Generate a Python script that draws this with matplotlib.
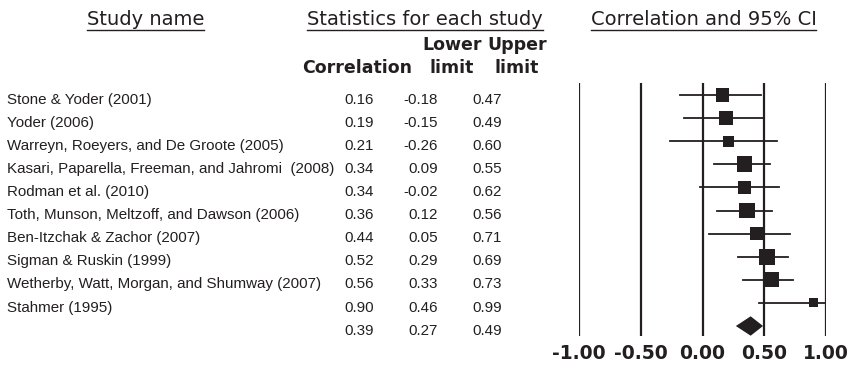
import matplotlib
matplotlib.use("Agg")
import matplotlib.pyplot as plt
from matplotlib.transforms import blended_transform_factory
from matplotlib.lines import Line2D
import numpy as np

studies = [
    "Stone & Yoder (2001)",
    "Yoder (2006)",
    "Warreyn, Roeyers, and De Groote (2005)",
    "Kasari, Paparella, Freeman, and Jahromi  (2008)",
    "Rodman et al. (2010)",
    "Toth, Munson, Meltzoff, and Dawson (2006)",
    "Ben-Itzchak & Zachor (2007)",
    "Sigman & Ruskin (1999)",
    "Wetherby, Watt, Morgan, and Shumway (2007)",
    "Stahmer (1995)",
]
corr = [0.16, 0.19, 0.21, 0.34, 0.34, 0.36, 0.44, 0.52, 0.56, 0.90]
lower = [-0.18, -0.15, -0.26, 0.09, -0.02, 0.12, 0.05, 0.29, 0.33, 0.46]
upper = [0.47, 0.49, 0.60, 0.55, 0.62, 0.56, 0.71, 0.69, 0.73, 0.99]
rel_weight = [9.5, 9.5, 6.1, 13.7, 9.5, 13.7, 9.5, 13.7, 12.2, 4.2]
summary = (0.39, 0.27, 0.49)
xticks = [-1.0, -0.5, 0.0, 0.5, 1.0]
xticklabels = ["-1.00", "-0.50", "0.00", "0.50", "1.00"]

W, H = 851, 372
fig = plt.figure(figsize=(W / 100, H / 100), dpi=100)
ink = "#231f20"

# forest axes: x=-1 at px 579, x=1 at px 826; vertical span px 83..336
row0_px, row_step = 95.0, 23.1
ax_top, ax_bot = 83.0, 336.0
ax = fig.add_axes([579 / W, 1 - ax_bot / H, (826 - 579) / W, (ax_bot - ax_top) / H])
ax.set_xlim(-1, 1)
ax.set_ylim((ax_bot - row0_px) / row_step, -(row0_px - ax_top) / row_step)
for s in ax.spines.values():
    s.set_visible(False)
ax.set_yticks([])
ax.set_xticks(xticks)
ax.set_xticklabels(xticklabels, family="DejaVu Sans", fontsize=13.5, fontweight="bold", color=ink)
ax.tick_params(axis="x", length=0, pad=6)
for xv in xticks:
    ax.axvline(xv, color=ink, lw=1.6, zorder=1)

n = len(studies)
ys = np.arange(n)
for i in range(n):
    ax.plot([lower[i], upper[i]], [ys[i], ys[i]], color=ink, lw=1.3, zorder=2)
sides = 4.3 * np.sqrt(np.array(rel_weight))  # px
ax.scatter(corr, ys, marker="s", s=(sides * 0.72) ** 2, color=ink, zorder=3, linewidths=0)

# summary diamond
ys_sum = n
dh = 0.42
ax.fill([summary[1], summary[0], summary[2], summary[0]],
        [ys_sum, ys_sum - dh, ys_sum, ys_sum + dh], color=ink, zorder=3, lw=0)

# text columns
tr = blended_transform_factory(fig.transFigure, ax.transData)
txt_font = ["Liberation Sans", "DejaVu Sans"]
tsize = 10.9
toff = 0.2
for i in range(n):
    fig.text(7 / W, ys[i] + toff, studies[i], transform=tr, ha="left", va="center",
             family=txt_font, fontsize=tsize, color=ink)
rows = list(zip(corr, lower, upper)) + [summary]
for i, (c, lo, up) in enumerate(rows):
    y = i + toff
    fig.text(374 / W, y, f"{c:.2f}", transform=tr, ha="right", va="center", family=txt_font, fontsize=tsize, color=ink)
    fig.text(438 / W, y, f"{lo:.2f}", transform=tr, ha="right", va="center", family=txt_font, fontsize=tsize, color=ink)
    fig.text(502 / W, y, f"{up:.2f}", transform=tr, ha="right", va="center", family=txt_font, fontsize=tsize, color=ink)

# headers
hfont = ["DejaVu Sans"]
headers = [("Study name", 145.5), ("Statistics for each study", 425), ("Correlation and 95% CI", 703.5)]
htexts = []
for label, cx in headers:
    htexts.append(fig.text(cx / W, 1 - 25 / H, label, ha="center", va="baseline", family=hfont,
                           fontsize=14, color=ink))
fig.canvas.draw()
r = fig.canvas.get_renderer()
for t in htexts:
    bb = t.get_window_extent(r)
    yline = 1 - 30 / H
    fig.add_artist(Line2D([bb.x0 / W, bb.x1 / W], [yline, yline], color=ink, lw=1.0, transform=fig.transFigure))

sub = [("Lower", 452, 45), ("Upper", 517, 45), ("Correlation", 357, 68), ("limit", 452, 68), ("limit", 517, 68)]
for label, cx, cy in sub:
    fig.text(cx / W, 1 - cy / H, label, ha="center", va="center", family=hfont, fontsize=12.5,
             fontweight="bold", color=ink)

fig.savefig("out.png", dpi=100)
